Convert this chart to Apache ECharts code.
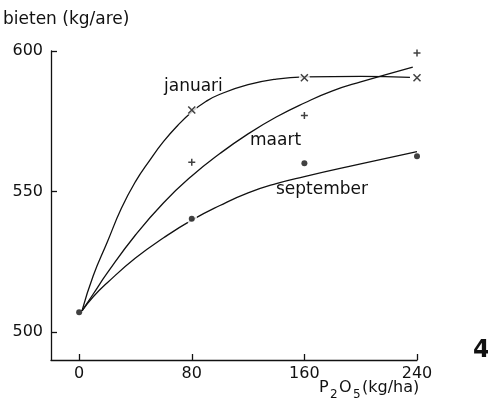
<!DOCTYPE html>
<html>
<head>
<meta charset="utf-8">
<script src="https://cdn.jsdelivr.net/npm/echarts@6/dist/echarts.min.js"></script>
<style>
  html, body { margin: 0; padding: 0; background: #fff; }
  #main { width: 488px; height: 406px; }
</style>
</head>
<body>
<div id="main"></div>
<script>
// ticks
var xTicks = [0, 80, 160, 240];
var yTicks = [500, 550, 600];

// observed values (P2O5 dose in kg/ha)
var doses = [80, 160, 240];
var januariObs = [579, 590.5, 590.5];
var maartObs = [560.4, 577, 599.3];
var septDoses = [0, 80, 160, 240];
var septemberObs = [507, 540.3, 560, 562.5];

// fitted curves
var januariFitX = [2, 10, 20, 30, 40, 50, 60, 70, 80, 90, 100, 120, 140, 160, 200, 235];
var januariFitY = [507.5, 520, 532, 544, 553.5, 561, 567.8, 573.5, 578.3, 582, 584.6, 588, 590, 590.8, 591, 590.6];
var maartFitX = [2, 10, 20, 40, 60, 80, 100, 120, 140, 160, 180, 200, 237];
var maartFitY = [507.5, 513.5, 521, 534.5, 546, 555.5, 563.5, 570.5, 576.5, 581.5, 585.8, 589, 594.3];
var septFitX = [2, 10, 20, 40, 60, 80, 100, 120, 140, 160, 200, 240];
var septFitY = [507.5, 512.5, 517.5, 526.3, 533.5, 539.8, 545, 549.5, 552.8, 555.3, 559.8, 564.2];

var FONT = 'DejaVu Sans';
var INK = '#111';

function pairs(xs, ys) {
	var out = [];
	for (var i = 0; i < xs.length; i++) out.push([xs[i], ys[i]]);
	return out;
}

var crossPath = 'path://M0 0 L10 10 M10 0 L0 10';
var plusPath = 'path://M5 0 L5 10 M0 5 L10 5';

var fitLine = function (data) {
	return {
		type: 'line',
		data: data,
		smooth: 0.5,
		showSymbol: false,
		silent: true,
		lineStyle: { color: INK, width: 1.3 },
		z: 2
	};
};

// white patch behind a marker so the curve looks broken there, like the print
var halo = function (data) {
	return {
		type: 'scatter',
		data: data,
		symbol: 'circle',
		symbolSize: 11,
		silent: true,
		itemStyle: { color: '#fff' },
		z: 3
	};
};

var chart = echarts.init(document.getElementById('main'));

var option = {
	animation: false,
	backgroundColor: '#fff',
	grid: { left: 51, right: 71, top: 51, bottom: 46 },
	xAxis: {
		type: 'value',
		min: -20,
		max: 240,
		axisLine: { onZero: false, lineStyle: { color: INK, width: 1.3 } },
		axisTick: { inside: true, length: 6, customValues: xTicks, lineStyle: { color: INK, width: 1.3 } },
		axisLabel: { customValues: xTicks, margin: 6, color: INK, fontFamily: FONT, fontSize: 16 },
		splitLine: { show: false }
	},
	yAxis: {
		type: 'value',
		min: 490,
		max: 600,
		axisLine: { show: true, onZero: false, lineStyle: { color: INK, width: 1.3 } },
		axisTick: { show: true, inside: true, length: 6, customValues: yTicks, lineStyle: { color: INK, width: 1.3 } },
		axisLabel: { customValues: yTicks, margin: 8, color: INK, fontFamily: FONT, fontSize: 16 },
		splitLine: { show: false }
	},
	series: [
		fitLine(pairs(januariFitX, januariFitY)),
		fitLine(pairs(maartFitX, maartFitY)),
		fitLine(pairs(septFitX, septFitY)),
		halo(pairs(doses, januariObs)),
		halo([[septDoses[1], septemberObs[1]]]),
		{
			type: 'scatter',
			data: pairs(doses, januariObs),
			symbol: crossPath,
			symbolSize: 7,
			itemStyle: { color: 'none', borderColor: INK, borderWidth: 1.5 },
			z: 4
		},
		{
			type: 'scatter',
			data: pairs(doses, maartObs),
			symbol: plusPath,
			symbolSize: 7,
			itemStyle: { color: 'none', borderColor: INK, borderWidth: 1.5 },
			z: 4
		},
		{
			type: 'scatter',
			data: pairs(septDoses, septemberObs),
			symbol: 'circle',
			symbolSize: 6,
			itemStyle: { color: INK },
			z: 4
		}
	],
	graphic: [
		{ type: 'text', left: 3, top: 11, style: { text: 'bieten (kg/are)', font: '17px "DejaVu Sans"', fill: INK } },
		{ type: 'text', left: 164, top: 78, style: { text: 'januari', font: '17px "DejaVu Sans"', fill: INK } },
		{ type: 'text', left: 250, top: 132, style: { text: 'maart', font: '17px "DejaVu Sans"', fill: INK } },
		{ type: 'text', left: 276, top: 181, style: { text: 'september', font: '17px "DejaVu Sans"', fill: INK } },
		// x axis name, P2O5 with dropped subscripts
		{ type: 'text', left: 319, top: 380, style: { text: 'P', font: '16px "DejaVu Sans"', fill: INK } },
		{ type: 'text', left: 330, top: 389, style: { text: '2', font: '12px "DejaVu Sans"', fill: INK } },
		{ type: 'text', left: 339, top: 380, style: { text: 'O', font: '16px "DejaVu Sans"', fill: INK } },
		{ type: 'text', left: 353, top: 389, style: { text: '5', font: '12px "DejaVu Sans"', fill: INK } },
		{ type: 'text', left: 362, top: 380, style: { text: '(kg/ha)', font: '16px "DejaVu Sans"', fill: INK } },
		{ type: 'text', left: 473, top: 339, style: { text: '4', font: 'bold 24px "DejaVu Sans"', fill: INK } }
	]
};

chart.setOption(option);
</script>
</body>
</html>
